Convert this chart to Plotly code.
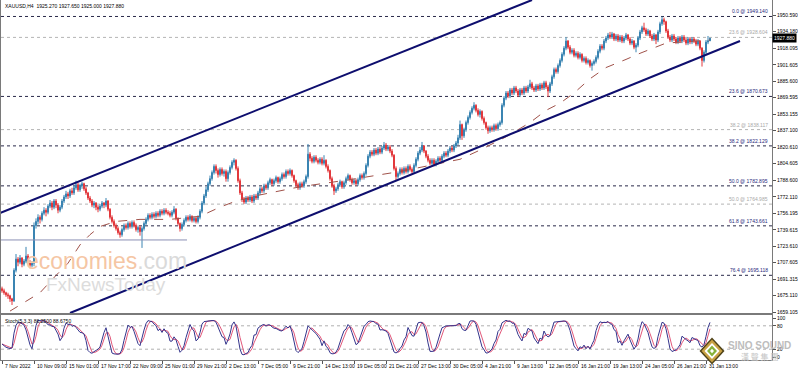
import plotly.graph_objects as go
import pandas as pd

# ---------------- data ----------------
open_ = [
1682,1680,1678,1676,1675,1672,1670,1700,1711,1708,
1712,1706,1709,1714,1708,1705,1707,1744,1748,1752,
1750,1756,1759,1757,1763,1766,1762,1768,1764,1759,
1762,1768,1772,1775,1773,1778,1776,1781,1784,1779,
1783,1785,1780,1776,1771,1768,1764,1766,1762,1760,
1763,1766,1764,1768,1760,1752,1748,1744,1741,1737,
1735,1740,1744,1742,1746,1743,1747,1744,1740,1742,
1738,1741,1746,1750,1754,1752,1755,1753,1756,1754,
1758,1756,1759,1757,1756,1754,1757,1760,1751,1746,
1741,1745,1749,1752,1750,1753,1749,1751,1748,1752,
1758,1766,1773,1779,1785,1790,1796,1802,1798,1794,
1799,1795,1797,1790,1796,1801,1806,1808,1800,1788,
1776,1770,1767,1771,1769,1772,1768,1773,1771,1776,
1780,1778,1783,1781,1786,1789,1785,1788,1791,1787,
1790,1794,1792,1797,1795,1798,1793,1788,1784,1781,
1785,1783,1787,1792,1814,1810,1807,1811,1808,1806,
1809,1805,1808,1802,1798,1790,1783,1778,1780,1784,
1787,1782,1786,1790,1793,1789,1786,1788,1785,1789,
1793,1791,1795,1803,1812,1816,1814,1818,1815,1819,
1816,1820,1823,1819,1821,1817,1813,1800,1792,1795,
1799,1796,1800,1797,1802,1799,1797,1803,1809,1815,
1818,1822,1817,1812,1808,1805,1808,1804,1807,1810,
1808,1812,1815,1813,1817,1820,1818,1822,1825,1830,
1843,1832,1838,1845,1850,1855,1859,1862,1857,1853,
1856,1849,1845,1840,1837,1840,1838,1842,1839,1843,
1845,1862,1869,1874,1871,1877,1874,1879,1876,1872,
1877,1874,1879,1876,1880,1883,1879,1877,1881,1878,
1882,1879,1884,1880,1876,1883,1890,1897,1895,1901,
1906,1912,1918,1925,1919,1914,1916,1911,1913,1909,
1912,1906,1908,1904,1906,1901,1903,1905,1909,1915,
1920,1918,1925,1928,1931,1929,1932,1927,1930,1926,
1929,1925,1928,1931,1927,1923,1925,1919,1921,1928,
1934,1938,1936,1932,1935,1930,1927,1931,1926,1934,
1942,1946,1944,1935,1929,1926,1930,1927,1924,1928,
1925,1929,1926,1923,1927,1924,1927,1925,1922,1925,
1918,1906,1914,1924,1925.27]

high = [
1684,1682,1679,1678,1676,1673,1702,1716,1713,1715,
1713,1711,1723,1716,1710,1709,1747,1751,1755,1754,
1758,1762,1761,1765,1769,1768,1770,1770,1766,1764,
1770,1774,1778,1777,1780,1781,1783,1788,1786,1785,
1787,1786,1782,1777,1773,1770,1768,1767,1764,1765,
1768,1767,1771,1769,1761,1754,1750,1746,1743,1739,
1742,1746,1746,1748,1748,1749,1749,1746,1744,1744,
1743,1748,1752,1756,1756,1757,1757,1758,1758,1760,
1760,1761,1761,1759,1758,1759,1763,1761,1752,1747,
1747,1751,1754,1754,1755,1754,1753,1753,1754,1760,
1768,1775,1782,1787,1793,1798,1804,1804,1800,1801,
1801,1799,1799,1798,1803,1808,1810,1809,1802,1790,
1778,1772,1773,1773,1774,1774,1775,1775,1778,1782,
1782,1785,1785,1788,1791,1790,1790,1793,1792,1792,
1796,1796,1799,1799,1800,1799,1794,1789,1786,1787,
1787,1789,1794,1824,1816,1812,1813,1813,1810,1811,
1811,1813,1809,1804,1799,1792,1785,1782,1786,1789,
1788,1788,1792,1795,1794,1791,1790,1790,1791,1795,
1795,1797,1805,1814,1818,1818,1820,1820,1821,1821,
1822,1826,1825,1823,1823,1819,1814,1802,1797,1801,
1801,1802,1802,1804,1804,1801,1805,1811,1817,1821,
1826,1823,1818,1814,1810,1810,1810,1809,1812,1812,
1814,1817,1817,1819,1822,1822,1824,1827,1833,1847,
1844,1840,1847,1852,1857,1861,1865,1863,1859,1858,
1857,1851,1846,1842,1842,1842,1844,1844,1845,1847,
1864,1871,1876,1876,1879,1879,1881,1881,1878,1879,
1879,1881,1881,1882,1887,1885,1881,1883,1883,1884,
1884,1886,1886,1882,1885,1892,1899,1899,1903,1908,
1914,1920,1929,1926,1921,1918,1918,1915,1915,1914,
1913,1910,1910,1908,1907,1905,1907,1911,1917,1922,
1922,1927,1930,1933,1934,1934,1933,1932,1932,1931,
1931,1930,1933,1932,1929,1927,1926,1923,1930,1936,
1940,1943,1938,1937,1936,1932,1933,1932,1936,1944,
1949,1948,1945,1937,1931,1932,1932,1929,1930,1930,
1931,1931,1928,1929,1929,1929,1929,1927,1927,1926,
1919,1916,1926,1930,1928]

low = [
1678,1676,1674,1672,1669,1666,1669,1698,1704,1706,
1703,1704,1707,1706,1702,1703,1704,1741,1745,1746,
1748,1754,1753,1755,1761,1759,1760,1761,1756,1757,
1760,1766,1770,1770,1771,1774,1774,1779,1777,1777,
1780,1778,1774,1769,1766,1762,1761,1759,1757,1758,
1761,1761,1762,1758,1750,1746,1742,1739,1735,1732,
1733,1738,1740,1740,1741,1741,1742,1738,1737,1734,
1722,1739,1744,1748,1750,1750,1751,1751,1752,1752,
1754,1754,1755,1754,1752,1752,1755,1749,1744,1738,
1739,1743,1747,1748,1748,1747,1747,1746,1746,1750,
1756,1764,1771,1777,1783,1788,1794,1795,1791,1792,
1793,1792,1787,1787,1794,1799,1803,1798,1786,1774,
1767,1765,1765,1767,1767,1766,1766,1769,1769,1774,
1776,1776,1779,1779,1784,1783,1783,1786,1785,1785,
1788,1790,1790,1793,1793,1791,1786,1782,1779,1779,
1781,1781,1785,1790,1807,1805,1805,1806,1804,1804,
1803,1803,1800,1796,1788,1781,1774,1776,1778,1782,
1780,1780,1784,1788,1787,1784,1784,1783,1783,1787,
1789,1789,1793,1801,1810,1812,1812,1813,1813,1814,
1814,1818,1817,1817,1815,1811,1798,1788,1790,1793,
1794,1794,1795,1795,1797,1795,1795,1801,1807,1813,
1816,1815,1810,1806,1803,1803,1802,1802,1805,1806,
1806,1810,1811,1811,1815,1816,1816,1820,1823,1828,
1828,1830,1836,1843,1848,1853,1857,1855,1851,1850,
1847,1843,1838,1834,1835,1836,1836,1837,1837,1841,
1843,1860,1867,1869,1869,1872,1872,1874,1870,1870,
1872,1872,1874,1874,1878,1877,1875,1875,1876,1876,
1877,1877,1878,1870,1874,1881,1888,1893,1893,1899,
1904,1910,1916,1917,1912,1912,1909,1909,1907,1907,
1904,1904,1902,1902,1899,1896,1901,1903,1907,1913,
1916,1916,1923,1926,1927,1927,1925,1925,1924,1924,
1923,1923,1926,1925,1921,1921,1917,1914,1919,1926,
1932,1934,1930,1930,1928,1925,1925,1922,1924,1932,
1940,1941,1933,1927,1924,1924,1925,1922,1922,1923,
1923,1924,1921,1921,1922,1922,1923,1920,1920,1916,
1900,1904,1912,1922,1925]

close = [
1680,1678,1676,1675,1672,1670,1700,1711,1708,1712,
1706,1709,1714,1708,1705,1707,1744,1748,1752,1750,
1756,1759,1757,1763,1766,1762,1768,1764,1759,1762,
1768,1772,1775,1773,1778,1776,1781,1784,1779,1783,
1785,1780,1776,1771,1768,1764,1766,1762,1760,1763,
1766,1764,1768,1760,1752,1748,1744,1741,1737,1735,
1740,1744,1742,1746,1743,1747,1744,1740,1742,1738,
1741,1746,1750,1754,1752,1755,1753,1756,1754,1758,
1756,1759,1757,1756,1754,1757,1760,1751,1746,1741,
1745,1749,1752,1750,1753,1749,1751,1748,1752,1758,
1766,1773,1779,1785,1790,1796,1802,1798,1794,1799,
1795,1797,1790,1796,1801,1806,1808,1800,1788,1776,
1770,1767,1771,1769,1772,1768,1773,1771,1776,1780,
1778,1783,1781,1786,1789,1785,1788,1791,1787,1790,
1794,1792,1797,1795,1798,1793,1788,1784,1781,1785,
1783,1787,1792,1814,1810,1807,1811,1808,1806,1809,
1805,1808,1802,1798,1790,1783,1778,1780,1784,1787,
1782,1786,1790,1793,1789,1786,1788,1785,1789,1793,
1791,1795,1803,1812,1816,1814,1818,1815,1819,1816,
1820,1823,1819,1821,1817,1813,1800,1792,1795,1799,
1796,1800,1797,1802,1799,1797,1803,1809,1815,1818,
1822,1817,1812,1808,1805,1808,1804,1807,1810,1808,
1812,1815,1813,1817,1820,1818,1822,1825,1830,1843,
1832,1838,1845,1850,1855,1859,1862,1857,1853,1856,
1849,1845,1840,1837,1840,1838,1842,1839,1843,1845,
1862,1869,1874,1871,1877,1874,1879,1876,1872,1877,
1874,1879,1876,1880,1883,1879,1877,1881,1878,1882,
1879,1884,1880,1876,1883,1890,1897,1895,1901,1906,
1912,1918,1925,1919,1914,1916,1911,1913,1909,1912,
1906,1908,1904,1906,1901,1903,1905,1909,1915,1920,
1918,1925,1928,1931,1929,1932,1927,1930,1926,1929,
1925,1928,1931,1927,1923,1925,1919,1921,1928,1934,
1938,1936,1932,1935,1930,1927,1931,1926,1934,1942,
1946,1944,1935,1929,1926,1930,1927,1924,1928,1925,
1929,1926,1923,1927,1924,1927,1925,1922,1925,1918,
1906,1914,1924,1925.27,1927.88]

bars = list(range(len(close)))

x_tick_text = ["7 Nov 2022", "10 Nov 09:00", "15 Nov 01:00", "17 Nov 17:00", "22 Nov 09:00",
               "25 Nov 01:00", "29 Nov 21:00", "2 Dec 13:00", "7 Dec 05:00", "9 Dec 21:00",
               "14 Dec 13:00", "19 Dec 05:00", "21 Dec 21:00", "27 Dec 13:00", "30 Dec 05:00",
               "4 Jan 21:00", "9 Jan 13:00", "12 Jan 05:00", "16 Jan 21:00", "19 Jan 13:00",
               "24 Jan 05:00", "26 Jan 21:00", "31 Jan 13:00"]
x_tick_bars = [16 * k for k in range(len(x_tick_text))]

price_ticks = [1950.590, 1934.180, 1918.095, 1901.605, 1885.600, 1869.595, 1853.155, 1837.100,
               1820.610, 1804.605, 1788.600, 1772.110, 1756.195, 1739.615, 1723.610, 1707.605,
               1691.315, 1675.110, 1659.105]
stoch_ticks = [0, 20, 80, 100]

fib_dark_levels = [1949.140, 1870.673, 1822.129, 1782.895, 1743.661, 1695.118]
fib_dark_text = ["0.0 @ 1949.140", "23.6 @ 1870.673", "38.2 @ 1822.129",
                 "50.0 @ 1782.895", "61.8 @ 1743.661", "76.4 @ 1695.118"]
fib_gray_levels = [1928.604, 1838.117, 1764.985]
fib_gray_text = ["23.6 @ 1928.604", "38.2 @ 1838.117", "50.0 @ 1764.985"]

support_level = 1729.8
support_bars = [-1, 92.5]
channel_upper_bars = [-1, 265]
channel_upper_prices = [1756.3, 1965.3]
channel_lower_bars = [34, 369]
channel_lower_prices = [1658.1, 1925.1]

ma_bar = [4, 12, 19, 27, 33, 39, 44, 49, 57, 69, 84, 99, 109, 117, 129, 149, 174, 199, 219, 229,
          239, 252, 264, 272, 279, 286, 294, 302, 312, 319, 332, 344, 354]
ma_val = [1660, 1670, 1678, 1695, 1707, 1725, 1735, 1743, 1748, 1750, 1750, 1753, 1762, 1768, 1774,
          1782, 1789, 1797, 1805, 1809, 1818, 1831, 1845, 1857, 1864, 1874, 1888, 1899, 1907, 1913,
          1923, 1925, 1926]

last_price = 1927.88

# ---------------- stochastic (5,3,3) from the candles ----------------
df = pd.DataFrame({"h": high, "l": low, "c": close})
ll = df["l"].rolling(5, min_periods=1).min()
hh = df["h"].rolling(5, min_periods=1).max()
stoch_k = (df["c"] - ll).rolling(3, min_periods=1).sum() / (hh - ll).rolling(3, min_periods=1).sum() * 100
stoch_d = stoch_k.rolling(3, min_periods=1).mean()

# ---------------- geometry helpers ----------------
W, H = 798, 372
ML, MR, MT, MB = 1, 26, 0, 12
PW, PH = W - ML - MR, H - MT - MB


def px(xp):
    return (xp - ML) / PW


def py(yp):
    return (PH - (yp - MT)) / PH


FONT = "Liberation Sans"
fig = go.Figure()

fig.add_trace(go.Candlestick(
    x=bars, open=open_, high=high, low=low, close=close,
    xaxis="x", yaxis="y", whiskerwidth=0, showlegend=False, hoverinfo="skip",
    increasing=dict(line=dict(color="#3a84b2", width=1), fillcolor="#3a84b2"),
    decreasing=dict(line=dict(color="#e2383c", width=1), fillcolor="#e2383c"),
))
fig.add_trace(go.Scatter(x=ma_bar, y=ma_val, mode="lines", xaxis="x", yaxis="y",
                         line=dict(color="#a0524a", width=1, dash="dash"),
                         showlegend=False, hoverinfo="skip"))
fig.add_trace(go.Scatter(x=bars, y=stoch_d, mode="lines", xaxis="x2", yaxis="y2",
                         line=dict(color="#e2587a", width=1), showlegend=False, hoverinfo="skip"))
fig.add_trace(go.Scatter(x=bars, y=stoch_k, mode="lines", xaxis="x2", yaxis="y2",
                         line=dict(color="#34348c", width=1), showlegend=False, hoverinfo="skip"))

shapes = []
for lv in fib_dark_levels:
    shapes.append(dict(type="line", xref="paper", x0=0, x1=1, yref="y", y0=lv, y1=lv,
                       line=dict(color="#2a2a4a", width=1, dash="dot"), layer="below"))
for lv in fib_gray_levels:
    shapes.append(dict(type="line", xref="paper", x0=0, x1=1, yref="y", y0=lv, y1=lv,
                       line=dict(color="#b4b4b4", width=1, dash="dot"), layer="below"))
for lv in [20, 80]:
    shapes.append(dict(type="line", xref="paper", x0=0, x1=1, yref="y2", y0=lv, y1=lv,
                       line=dict(color="#b0b0b0", width=1, dash="dot"), layer="below"))
shapes.append(dict(type="line", xref="x", yref="y", x0=support_bars[0], x1=support_bars[1],
                   y0=support_level, y1=support_level, line=dict(color="#8a90b4", width=1)))
shapes.append(dict(type="line", xref="x", yref="y", x0=channel_upper_bars[0], x1=channel_upper_bars[1],
                   y0=channel_upper_prices[0], y1=channel_upper_prices[1],
                   line=dict(color="#0e0e6e", width=2)))
shapes.append(dict(type="line", xref="x", yref="y", x0=channel_lower_bars[0], x1=channel_lower_bars[1],
                   y0=channel_lower_prices[0], y1=channel_lower_prices[1],
                   line=dict(color="#0e0e6e", width=2)))


def diamond(cx, cy, hw, hh, color):
    path = "M {} {} L {} {} L {} {} L {} {} Z".format(
        px(cx), py(cy - hh), px(cx + hw), py(cy), px(cx), py(cy + hh), px(cx - hw), py(cy))
    return dict(type="path", xref="paper", yref="paper", path=path,
                fillcolor=color, line=dict(width=0), layer="above")


shapes += [diamond(712, 351, 12.5, 13.5, "#4e4218"),
           diamond(712, 351, 10.5, 11.5, "#c9a244"),
           diamond(712, 351, 7.5, 8, "#ffffff"),
           diamond(712, 351, 5, 5.5, "#86b23a"),
           diamond(712, 351, 2, 2.2, "#ffffff")]

ann = []
for lv, t in zip(fib_dark_levels, fib_dark_text):
    ann.append(dict(xref="paper", x=0.998, xanchor="right", yref="y", y=lv, yanchor="bottom",
                    text=t, showarrow=False, font=dict(family=FONT, size=5, color="#28287a")))
for lv, t in zip(fib_gray_levels, fib_gray_text):
    ann.append(dict(xref="paper", x=0.998, xanchor="right", yref="y", y=lv, yanchor="bottom",
                    text=t, showarrow=False, font=dict(family=FONT, size=5, color="#a8a8a8")))
# time-axis labels, left-aligned at their tick as in the terminal
for b, t in zip(x_tick_bars, x_tick_text):
    ann.append(dict(xref="x2", x=b, xanchor="left", xshift=1, yref="paper", y=py(366),
                    yanchor="middle", text=t, showarrow=False,
                    font=dict(family=FONT, size=5, color="#000000")))
ann.append(dict(xref="paper", x=px(3), xanchor="left", yref="paper", y=py(1), yanchor="top",
                text="XAUUSD,H4  1925.270 1927.650 1925.000 1927.880", showarrow=False,
                font=dict(family=FONT, size=5, color="#000000")))
ann.append(dict(xref="paper", x=px(3), xanchor="left", yref="paper", y=py(316), yanchor="top",
                text="Stoch(5,3,3) 86.2500 88.6750", showarrow=False,
                font=dict(family=FONT, size=5, color="#000000")))
ann.append(dict(xref="paper", x=1, xanchor="left", yref="y", y=last_price, yanchor="middle",
                text="1927.880", showarrow=False, bgcolor="#000000", borderpad=1,
                font=dict(family=FONT, size=5, color="#ffffff")))
ann.append(dict(xref="paper", x=px(24), xanchor="left", yref="paper", y=py(261), yanchor="middle",
                text="<span style='color:#f5c6a4'>economies</span><span style='color:#dadada'>.com</span>",
                showarrow=False, font=dict(family=FONT, size=23)))
ann.append(dict(xref="paper", x=px(44), xanchor="left", yref="paper", y=py(284), yanchor="middle",
                text="FxNewsToday", showarrow=False, font=dict(family=FONT, size=19, color="#dcdcdc")))
ann.append(dict(xref="paper", x=px(759), xanchor="center", yref="paper", y=py(345), yanchor="middle",
                text="<b>SINO SOUND</b>", showarrow=False, font=dict(family=FONT, size=10, color="#bdbdbd")))
ann.append(dict(xref="paper", x=px(759), xanchor="center", yref="paper", y=py(356), yanchor="middle",
                text="漢 聲 集 團", showarrow=False, font=dict(family="Noto Sans CJK TC", size=8, color="#c4c4c4")))

axis_common = dict(showgrid=False, zeroline=False, showline=True, mirror=True,
                   linecolor="#7a7a7a", linewidth=1, fixedrange=True)

fig.update_layout(
    width=W, height=H, margin=dict(l=ML, r=MR, t=MT, b=MB, autoexpand=False),
    paper_bgcolor="#ffffff", plot_bgcolor="#ffffff", hovermode=False, showlegend=False,
    font=dict(family=FONT, size=5, color="#000000"),
    xaxis=dict(domain=[0, 1], anchor="y", range=[-0.5, 385], showticklabels=False, ticks="",
               rangeslider=dict(visible=False), **axis_common),
    xaxis2=dict(domain=[0, 1], anchor="y2", range=[-0.5, 385], matches="x",
                tickmode="array", tickvals=x_tick_bars, showticklabels=False,
                ticks="outside", ticklen=3, tickcolor="#555555", **axis_common),
    yaxis=dict(domain=[py(313), 1], anchor="x", range=[1658.12, 1965.31], side="right",
               tickmode="array", tickvals=price_ticks, ticktext=["%.3f" % v for v in price_ticks],
               ticks="outside", ticklen=3, tickcolor="#555555", tickfont=dict(family=FONT, size=5),
               automargin=False, **axis_common),
    yaxis2=dict(domain=[0, py(315)], anchor="x2", range=[-7.7, 107.7], side="right",
                tickmode="array", tickvals=stoch_ticks, ticktext=[str(v) for v in stoch_ticks],
                ticks="outside", ticklen=3, tickcolor="#555555", tickfont=dict(family=FONT, size=5),
                automargin=False, **axis_common),
    shapes=shapes, annotations=ann,
)

fig.write_html("out.html")
